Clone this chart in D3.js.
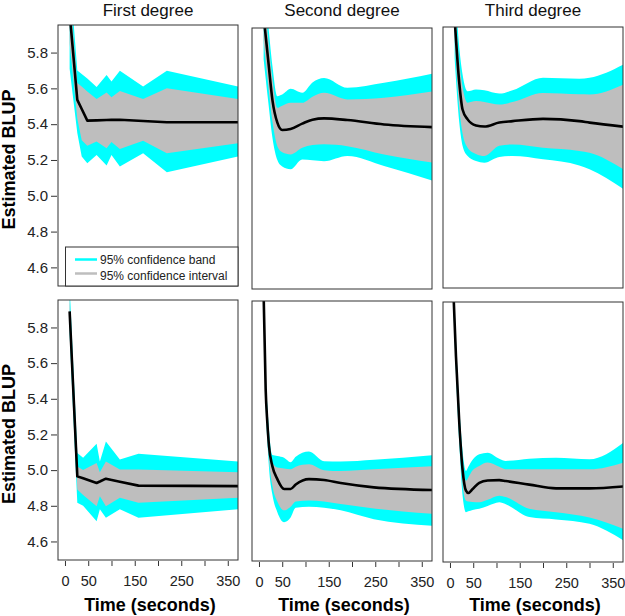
<!DOCTYPE html>
<html>
<head>
<script src="https://cdn.jsdelivr.net/npm/d3@7"></script>
<style>
  body { margin: 0; background: #fff; }
  svg { font-family: "Liberation Sans", Arial, Helvetica, sans-serif; }
</style>
</head>
<body>
<svg id="chart" width="625" height="616"></svg>
<script>
// rows: [time, blup, ciLow, ciHigh, cbLow, cbHigh]
var firstTop = [
  [10, 6.02, 5.85, 6.15, 5.71, 6.25],
  [26.5, 5.536, 5.43, 5.63, 5.35, 5.70],
  [36, 5.485, 5.31, 5.61, 5.22, 5.68],
  [48, 5.42, 5.28, 5.582, 5.182, 5.655],
  [68, 5.421, 5.303, 5.541, 5.228, 5.607],
  [89.5, 5.423, 5.266, 5.577, 5.169, 5.675],
  [100, 5.424, 5.30, 5.55, 5.228, 5.638],
  [118, 5.425, 5.262, 5.586, 5.163, 5.698],
  [168, 5.418, 5.308, 5.54, 5.238, 5.61],
  [219, 5.411, 5.238, 5.601, 5.132, 5.698],
  [372, 5.411, 5.294, 5.54, 5.219, 5.61]
];
var secondTop = [
  [10, 6.02, 5.88, 6.15, 5.78, 6.24],
  [20, 5.77, 5.63, 5.89, 5.54, 5.97],
  [29, 5.55, 5.43, 5.67, 5.34, 5.74],
  [39.5, 5.425, 5.294, 5.508, 5.216, 5.573],
  [50, 5.384, 5.26, 5.52, 5.18, 5.582],
  [68, 5.39, 5.248, 5.536, 5.165, 5.614],
  [93, 5.42, 5.285, 5.536, 5.22, 5.592],
  [115, 5.442, 5.30, 5.57, 5.215, 5.65],
  [140, 5.449, 5.304, 5.592, 5.21, 5.675],
  [190, 5.44, 5.294, 5.555, 5.239, 5.62],
  [269, 5.415, 5.248, 5.564, 5.183, 5.648],
  [374, 5.40, 5.202, 5.60, 5.10, 5.70]
];
var thirdTop = [
  [10, 6.0, 5.87, 6.12, 5.78, 6.21],
  [20, 5.642, 5.50, 5.76, 5.42, 5.84],
  [27, 5.493, 5.36, 5.62, 5.29, 5.69],
  [37.9, 5.438, 5.28, 5.531, 5.233, 5.595],
  [55.9, 5.404, 5.245, 5.54, 5.205, 5.605],
  [73.8, 5.398, 5.233, 5.535, 5.196, 5.60],
  [106, 5.42, 5.29, 5.521, 5.228, 5.582],
  [134.6, 5.428, 5.298, 5.535, 5.233, 5.60],
  [200, 5.441, 5.28, 5.586, 5.215, 5.67],
  [278, 5.428, 5.262, 5.578, 5.18, 5.665],
  [300, 5.42, 5.252, 5.577, 5.159, 5.67],
  [373, 5.397, 5.159, 5.633, 5.048, 5.744]
];
var firstBottom = [
  [10, 5.89, 5.81, 5.97, 5.76, 6.03],
  [26.5, 4.965, 4.891, 5.021, 4.817, 5.096],
  [39, 4.954, 4.86, 5.00, 4.80, 5.07],
  [68, 4.928, 4.798, 5.04, 4.714, 5.148],
  [75, 4.936, 4.854, 4.988, 4.78, 5.049],
  [88, 4.952, 4.798, 5.049, 4.733, 5.161],
  [118, 4.935, 4.845, 5.003, 4.78, 5.059],
  [158, 4.913, 4.817, 5.003, 4.733, 5.092],
  [372, 4.91, 4.845, 4.988, 4.78, 5.049]
];
var secondBottom = [
  [10, 5.99, 5.94, 6.04, 5.91, 6.07],
  [14.4, 5.457, 5.41, 5.51, 5.37, 5.55],
  [18, 5.271, 5.21, 5.33, 5.17, 5.37],
  [21.5, 5.141, 5.07, 5.19, 5.02, 5.23],
  [28.7, 5.029, 4.92, 5.05, 4.87, 5.09],
  [39.5, 4.955, 4.83, 5.02, 4.77, 5.085],
  [54, 4.90, 4.78, 5.015, 4.714, 5.075],
  [68, 4.90, 4.80, 5.01, 4.74, 5.05],
  [79, 4.925, 4.83, 5.025, 4.795, 5.08],
  [107.5, 4.955, 4.835, 5.038, 4.80, 5.11],
  [140, 4.95, 4.83, 5.005, 4.795, 5.056],
  [175.7, 4.933, 4.815, 5.0, 4.78, 5.054],
  [247, 4.909, 4.79, 5.01, 4.73, 5.064],
  [374, 4.894, 4.76, 5.028, 4.693, 5.09]
];
var thirdBottom = [
  [8, 5.97, 5.92, 6.02, 5.88, 6.06],
  [12.9, 5.648, 5.59, 5.70, 5.55, 5.74],
  [20, 5.277, 5.21, 5.33, 5.16, 5.37],
  [27, 5.016, 4.93, 5.08, 4.87, 5.12],
  [34.4, 4.896, 4.84, 4.951, 4.775, 5.007],
  [39.4, 4.883, 4.835, 4.97, 4.78, 5.03],
  [48.7, 4.905, 4.832, 5.01, 4.788, 5.07],
  [63, 4.94, 4.831, 5.035, 4.794, 5.10],
  [81, 4.953, 4.845, 5.054, 4.81, 5.109],
  [106, 4.955, 4.868, 5.03, 4.831, 5.075],
  [120, 4.95, 4.86, 5.016, 4.82, 5.063],
  [170.5, 4.93, 4.794, 5.016, 4.748, 5.075],
  [228, 4.909, 4.775, 5.016, 4.735, 5.08],
  [300, 4.909, 4.745, 5.016, 4.71, 5.072],
  [373, 4.92, 4.682, 5.054, 4.617, 5.165]
];

var titles = ["First degree", "Second degree", "Third degree"];
var yTicks = [4.6, 4.8, 5.0, 5.2, 5.4, 5.6, 5.8];
var xTicks = [0, 50, 100, 150, 200, 250, 300, 350];
var xTickLabels = [0, 50, 150, 250, 350];
var legendLabels = ["95% confidence band", "95% confidence interval"];

var cbColor = "#00ffff", ciColor = "#bebebe";

var svg = d3.select("#chart");

// panel boxes (the original figure is a slightly uneven collage)
var colX = [58, 252, 443];
var colW = [180, 180, 180];
var topY = [25, 28, 27];
var bottomY = [300, 301, 302];

var panels = [
  {data: firstTop, col: 0, row: 0, curve: d3.curveLinear},
  {data: secondTop, col: 1, row: 0, curve: d3.curveMonotoneX},
  {data: thirdTop, col: 2, row: 0, curve: d3.curveMonotoneX},
  {data: firstBottom, col: 0, row: 1, curve: d3.curveLinear},
  {data: secondBottom, col: 1, row: 1, curve: d3.curveMonotoneX},
  {data: thirdBottom, col: 2, row: 1, curve: d3.curveMonotoneX}
];

panels.forEach(function(p, i) {
  var left = colX[p.col], w = colW[p.col];
  var top = p.row === 0 ? topY[p.col] : bottomY[p.col];
  var h = p.row === 0 ? 261 : 260;
  var x = d3.scaleLinear().domain([-15, 372]).range([left, left + w]);
  var y = d3.scaleLinear().domain([4.496, 5.954]).range([top + h, top]);

  svg.append("clipPath").attr("id", "clip" + i)
    .append("rect").attr("x", left).attr("y", top).attr("width", w).attr("height", h);
  var g = svg.append("g").attr("clip-path", "url(#clip" + i + ")");

  var band = d3.area().x(function(d){return x(d[0]);}).y0(function(d){return y(d[4]);}).y1(function(d){return y(d[5]);}).curve(p.curve);
  var interval = d3.area().x(function(d){return x(d[0]);}).y0(function(d){return y(d[2]);}).y1(function(d){return y(d[3]);}).curve(p.curve);
  var line = d3.line().x(function(d){return x(d[0]);}).y(function(d){return y(d[1]);}).curve(p.curve);

  g.append("path").attr("d", band(p.data)).attr("fill", cbColor);
  g.append("path").attr("d", interval(p.data)).attr("fill", ciColor);
  g.append("path").attr("d", line(p.data)).attr("fill", "none").attr("stroke", "#000").attr("stroke-width", 2.6).attr("stroke-linejoin", "round");

  svg.append("rect").attr("x", left).attr("y", top).attr("width", w).attr("height", h)
    .attr("fill", "none").attr("stroke", "#333").attr("stroke-width", 1);

  if (p.row === 0) {
    svg.append("text").attr("x", left + w / 2).attr("y", 16).attr("text-anchor", "middle")
      .style("font-size", "17px").attr("fill", "#111").text(titles[p.col]);
  }

  if (p.col === 0) {
    var ya = svg.append("g").attr("transform", "translate(" + (left - 1) + ",0)")
      .call(d3.axisLeft(y).tickValues(yTicks).tickSize(6).tickPadding(3).tickFormat(d3.format(".1f")));
    ya.select(".domain").remove();
    ya.selectAll("line").attr("stroke", "#333");
    ya.selectAll("text").style("font-size", "15px").attr("fill", "#222").style("font-family", "inherit");

    svg.append("text").attr("transform", "translate(15," + (top + h / 2 + 4) + ") rotate(-90)")
      .attr("text-anchor", "middle").style("font-size", "18px").style("font-weight", "bold")
      .text("Estimated BLUP");
  }

  if (p.row === 1) {
    var xa = svg.append("g").attr("transform", "translate(0," + (top + h + 1) + ")")
      .call(d3.axisBottom(x).tickValues(xTicks).tickSize(5).tickPadding(10)
        .tickFormat(function(d){ return xTickLabels.indexOf(d) >= 0 ? d : ""; }));
    xa.select(".domain").remove();
    xa.selectAll("line").attr("stroke", "#333");
    xa.selectAll("text").style("font-size", "14.5px").attr("fill", "#222").style("font-family", "inherit");

    svg.append("text").attr("x", left + w / 2 + 2).attr("y", 611).attr("text-anchor", "middle")
      .style("font-size", "18px").style("font-weight", "bold").text("Time (seconds)");
  }
});

// legend in the first panel
var legend = svg.append("g");
legend.append("rect").attr("x", 65.5).attr("y", 247).attr("width", 172.5).attr("height", 39)
  .attr("fill", "#fff").attr("stroke", "#333");
legend.selectAll("line").data(legendLabels).enter().append("line")
  .attr("x1", 75).attr("x2", 97)
  .attr("y1", function(d, i){ return 259.5 + i * 14; }).attr("y2", function(d, i){ return 259.5 + i * 14; })
  .attr("stroke", function(d, i){ return i === 0 ? cbColor : ciColor; })
  .attr("stroke-width", 2.5);
legend.selectAll("text").data(legendLabels).enter().append("text")
  .attr("x", 100).attr("y", function(d, i){ return 264 + i * 16; })
  .style("font-size", "12px").attr("fill", "#222").text(function(d){ return d; });
</script>
</body>
</html>
